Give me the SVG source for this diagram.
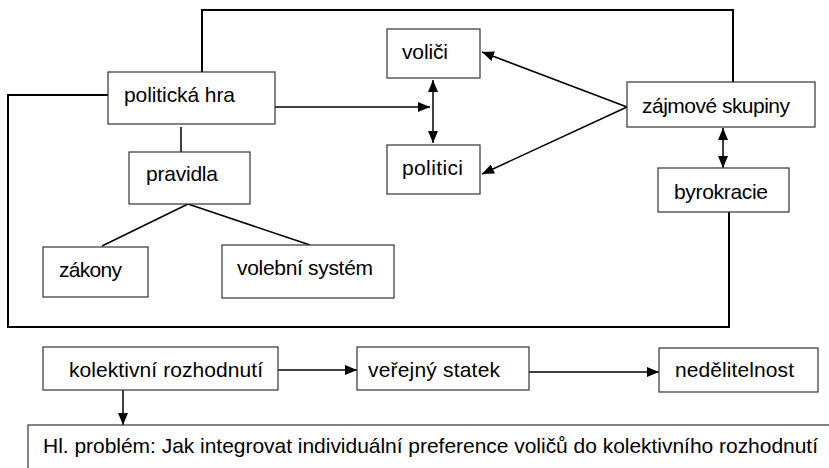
<svg xmlns="http://www.w3.org/2000/svg" width="829" height="468" viewBox="0 0 829 468">
<defs>
<style>
.box{fill:#fff;stroke:#333;stroke-width:1.2}
.t{font-family:"Liberation Sans",Arial,sans-serif;font-size:21px;fill:#000}
.frame{fill:none;stroke:#000;stroke-width:2}
.c{fill:none;stroke:#000;stroke-width:1.5}
</style>
<marker id="ah" viewBox="0 0 12 10" refX="12" refY="5" markerWidth="12" markerHeight="10" markerUnits="userSpaceOnUse" orient="auto-start-reverse">
<path d="M0,0 L12,5 L0,10 Z" fill="#000"/>
</marker>
</defs>
<rect width="829" height="468" fill="#fff"/>
<g id="connectors">
<polyline class="frame" points="202,72 202,10 733,10 733,82"/>
<polyline class="frame" points="108,95 8,95 8,327 729,327 729,212"/>
<line class="c" x1="275" y1="107" x2="430" y2="107" marker-end="url(#ah)"/>
<line class="c" x1="433" y1="80" x2="433" y2="143" marker-start="url(#ah)" marker-end="url(#ah)"/>
<line class="c" x1="627" y1="107" x2="482" y2="52" marker-end="url(#ah)"/>
<line class="c" x1="627" y1="107" x2="482" y2="174" marker-end="url(#ah)"/>
<line class="c" x1="723" y1="128" x2="723" y2="168" marker-start="url(#ah)" marker-end="url(#ah)"/>
<line class="c" x1="181" y1="127" x2="181" y2="153"/>
<line class="c" x1="188" y1="204" x2="102" y2="246"/>
<line class="c" x1="188" y1="204" x2="310" y2="245"/>
<line class="c" x1="278" y1="370" x2="357" y2="370" marker-end="url(#ah)"/>
<line class="c" x1="529" y1="372" x2="659" y2="372" marker-end="url(#ah)"/>
<line class="c" x1="123" y1="390" x2="123" y2="425" marker-end="url(#ah)"/>
</g>
<g id="politicka-hra"><rect class="box" x="108" y="72" width="167" height="52"/><text class="t" x="124" y="102" textLength="111">politická hra</text></g>
<g id="pravidla"><rect class="box" x="129" y="152" width="121" height="52"/><text class="t" x="146" y="181" textLength="72">pravidla</text></g>
<g id="volici"><rect class="box" x="387" y="29" width="93" height="49"/><text class="t" x="402" y="59" textLength="46">voliči</text></g>
<g id="politici"><rect class="box" x="387" y="145" width="93" height="49"/><text class="t" x="402" y="175" textLength="61">politici</text></g>
<g id="zajmove-skupiny"><rect class="box" x="627" y="82" width="188" height="45"/><text class="t" x="642" y="113" textLength="148">zájmové skupiny</text></g>
<g id="byrokracie"><rect class="box" x="658" y="168" width="131" height="44"/><text class="t" x="674" y="199" textLength="94">byrokracie</text></g>
<g id="zakony"><rect class="box" x="43" y="247" width="105" height="50"/><text class="t" x="59" y="277" textLength="63">zákony</text></g>
<g id="volebni-system"><rect class="box" x="222" y="245" width="172" height="53"/><text class="t" x="237" y="275" textLength="136">volební systém</text></g>
<g id="kolektivni-rozhodnuti"><rect class="box" x="43" y="347" width="235" height="43"/><text class="t" x="69" y="377" textLength="194">kolektivní rozhodnutí</text></g>
<g id="verejny-statek"><rect class="box" x="357" y="347" width="172" height="43"/><text class="t" x="368" y="377" textLength="132">veřejný statek</text></g>
<g id="nedelitelnost"><rect class="box" x="659" y="348" width="159" height="44"/><text class="t" x="675" y="377" textLength="119">nedělitelnost</text></g>
<g id="hl-problem"><rect class="box" x="28" y="425" width="820" height="60" stroke="#555"/><text class="t" x="43" y="453" textLength="775">Hl. problém: Jak integrovat individuální preference voličů do kolektivního rozhodnutí</text></g>
</svg>
